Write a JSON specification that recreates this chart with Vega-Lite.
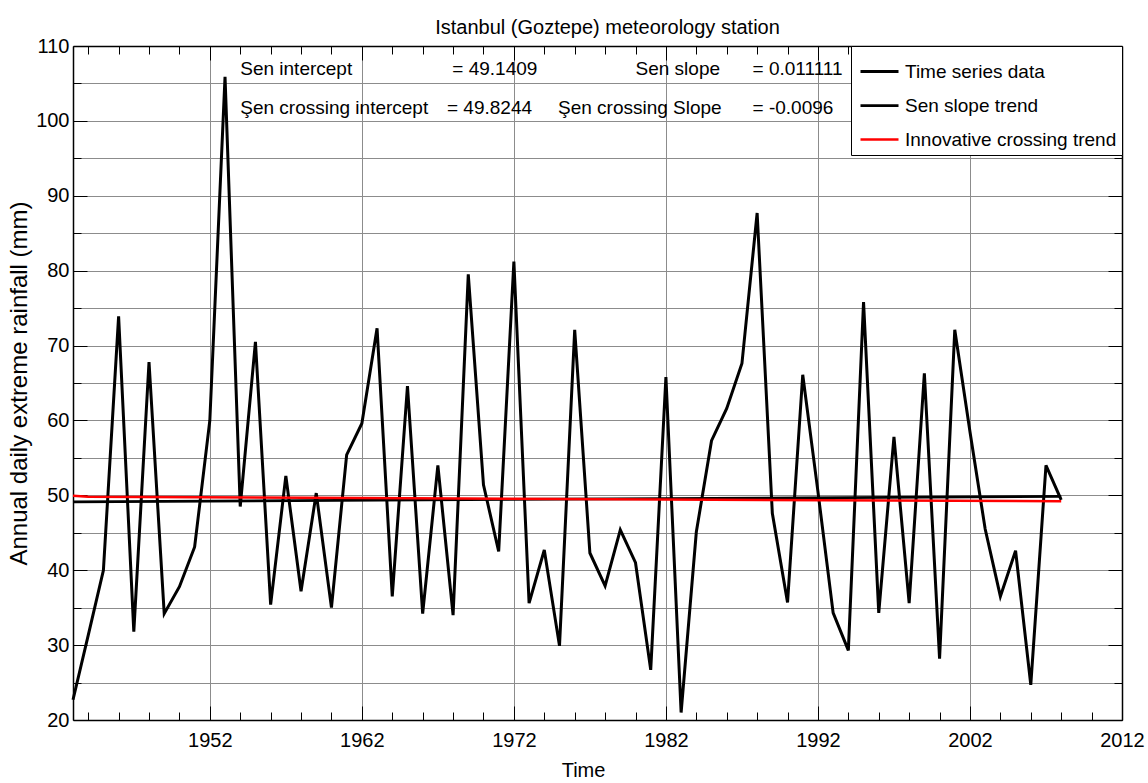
{
  "$schema": "https://vega.github.io/schema/vega-lite/v6.json",
  "width": 1049,
  "height": 674,
  "autosize": "none",
  "padding": {"left": 73, "top": 46, "right": 26, "bottom": 63},
  "background": "white",
  "title": {
    "text": "Istanbul (Goztepe) meteorology station",
    "font": "Liberation Sans, Arial, sans-serif",
    "fontSize": 20,
    "fontWeight": "normal",
    "color": "black",
    "anchor": "middle",
    "baseline": "alphabetic",
    "offset": -18,
    "dx": 10
  },
  "config": {
    "view": {"stroke": null},
    "legend": {
      "orient": "top-right",
      "offset": 0,
      "fillColor": "white",
      "strokeColor": "black",
      "padding": 5,
      "symbolType": "stroke",
      "symbolSize": 1444,
      "symbolStrokeWidth": 2,
      "symbolOffset": 3,
      "labelFont": "Liberation Sans, Arial, sans-serif",
      "labelFontSize": 19,
      "labelColor": "black",
      "labelLimit": 400,
      "labelOffset": 5,
      "rowPadding": 3
    }
  },
  "data": {
    "values": [
      {"year": 1943, "value": 22.7, "series": "Time series data"},
      {"year": 1944, "value": 31.3, "series": "Time series data"},
      {"year": 1945, "value": 40.0, "series": "Time series data"},
      {"year": 1946, "value": 73.9, "series": "Time series data"},
      {"year": 1947, "value": 31.8, "series": "Time series data"},
      {"year": 1948, "value": 67.8, "series": "Time series data"},
      {"year": 1949, "value": 34.2, "series": "Time series data"},
      {"year": 1950, "value": 37.8, "series": "Time series data"},
      {"year": 1951, "value": 43.1, "series": "Time series data"},
      {"year": 1952, "value": 60.0, "series": "Time series data"},
      {"year": 1953, "value": 105.9, "series": "Time series data"},
      {"year": 1954, "value": 48.5, "series": "Time series data"},
      {"year": 1955, "value": 70.5, "series": "Time series data"},
      {"year": 1956, "value": 35.4, "series": "Time series data"},
      {"year": 1957, "value": 52.6, "series": "Time series data"},
      {"year": 1958, "value": 37.2, "series": "Time series data"},
      {"year": 1959, "value": 50.3, "series": "Time series data"},
      {"year": 1960, "value": 35.0, "series": "Time series data"},
      {"year": 1961, "value": 55.4, "series": "Time series data"},
      {"year": 1962, "value": 59.6, "series": "Time series data"},
      {"year": 1963, "value": 72.3, "series": "Time series data"},
      {"year": 1964, "value": 36.5, "series": "Time series data"},
      {"year": 1965, "value": 64.6, "series": "Time series data"},
      {"year": 1966, "value": 34.2, "series": "Time series data"},
      {"year": 1967, "value": 54.0, "series": "Time series data"},
      {"year": 1968, "value": 34.0, "series": "Time series data"},
      {"year": 1969, "value": 79.5, "series": "Time series data"},
      {"year": 1970, "value": 51.4, "series": "Time series data"},
      {"year": 1971, "value": 42.5, "series": "Time series data"},
      {"year": 1972, "value": 81.2, "series": "Time series data"},
      {"year": 1973, "value": 35.6, "series": "Time series data"},
      {"year": 1974, "value": 42.7, "series": "Time series data"},
      {"year": 1975, "value": 29.9, "series": "Time series data"},
      {"year": 1976, "value": 72.1, "series": "Time series data"},
      {"year": 1977, "value": 42.3, "series": "Time series data"},
      {"year": 1978, "value": 37.9, "series": "Time series data"},
      {"year": 1979, "value": 45.4, "series": "Time series data"},
      {"year": 1980, "value": 41.0, "series": "Time series data"},
      {"year": 1981, "value": 26.7, "series": "Time series data"},
      {"year": 1982, "value": 65.8, "series": "Time series data"},
      {"year": 1983, "value": 21.0, "series": "Time series data"},
      {"year": 1984, "value": 45.1, "series": "Time series data"},
      {"year": 1985, "value": 57.3, "series": "Time series data"},
      {"year": 1986, "value": 61.6, "series": "Time series data"},
      {"year": 1987, "value": 67.6, "series": "Time series data"},
      {"year": 1988, "value": 87.7, "series": "Time series data"},
      {"year": 1989, "value": 47.6, "series": "Time series data"},
      {"year": 1990, "value": 35.7, "series": "Time series data"},
      {"year": 1991, "value": 66.1, "series": "Time series data"},
      {"year": 1992, "value": 50.5, "series": "Time series data"},
      {"year": 1993, "value": 34.3, "series": "Time series data"},
      {"year": 1994, "value": 29.3, "series": "Time series data"},
      {"year": 1995, "value": 75.8, "series": "Time series data"},
      {"year": 1996, "value": 34.3, "series": "Time series data"},
      {"year": 1997, "value": 57.8, "series": "Time series data"},
      {"year": 1998, "value": 35.6, "series": "Time series data"},
      {"year": 1999, "value": 66.3, "series": "Time series data"},
      {"year": 2000, "value": 28.2, "series": "Time series data"},
      {"year": 2001, "value": 72.1, "series": "Time series data"},
      {"year": 2002, "value": 58.5, "series": "Time series data"},
      {"year": 2003, "value": 45.5, "series": "Time series data"},
      {"year": 2004, "value": 36.5, "series": "Time series data"},
      {"year": 2005, "value": 42.6, "series": "Time series data"},
      {"year": 2006, "value": 24.7, "series": "Time series data"},
      {"year": 2007, "value": 54.0, "series": "Time series data"},
      {"year": 2008, "value": 49.4, "series": "Time series data"},
      {"year": 1943, "value": 49.14, "series": "Sen slope trend"},
      {"year": 2008, "value": 49.86, "series": "Sen slope trend"},
      {"year": 1943, "value": 49.95, "series": "Innovative crossing trend"},
      {"year": 1944, "value": 49.82, "series": "Innovative crossing trend"},
      {"year": 2008, "value": 49.2, "series": "Innovative crossing trend"}
    ]
  },
  "resolve": {"axis": {"x": "independent", "y": "independent"}},
  "layer": [
    {
      "mark": {"type": "line", "strokeJoin": "miter"},
      "encoding": {
        "x": {
          "field": "year", "type": "quantitative",
          "scale": {"domain": [1943, 2012], "nice": false, "zero": false},
          "axis": {
            "orient": "bottom",
            "values": [1944,1946,1948,1950,1952,1954,1956,1958,1960,1962,1964,1966,1968,1970,1972,1974,1976,1978,1980,1982,1984,1986,1988,1990,1992,1994,1996,1998,2000,2002,2004,2006,2008,2010,2012],
            "format": "d",
            "labelExpr": "(datum.value - 2) % 10 == 0 ? datum.label : ''",
            "labelFlush": false,
            "labelOverlap": false,
            "labelFont": "Liberation Sans, Arial, sans-serif",
            "labelFontSize": 20,
            "labelColor": "black",
            "labelPadding": 24,
            "tickColor": "black",
            "tickWidth": 1,
            "tickSize": {"condition": {"test": "(datum.value - 2) % 10 == 0", "value": -14}, "value": -8},
            "grid": true,
            "gridColor": "#8c8c8c",
            "gridWidth": 1,
            "gridOpacity": {"condition": {"test": "(datum.value - 2) % 10 == 0", "value": 1}, "value": 0},
            "domainColor": "black",
            "domainWidth": 1.5,
            "title": "Time",
            "titleFont": "Liberation Sans, Arial, sans-serif",
            "titleFontSize": 20,
            "titleFontWeight": "normal",
            "titleColor": "black",
            "titlePadding": 4,
            "titleX": 510
          }
        },
        "y": {
          "field": "value", "type": "quantitative",
          "scale": {"domain": [20, 110], "nice": false, "zero": false},
          "axis": {
            "orient": "left",
            "values": [20,25,30,35,40,45,50,55,60,65,70,75,80,85,90,95,100,105,110],
            "labelExpr": "datum.value % 10 == 0 ? datum.label : ''",
            "labelOverlap": false,
            "labelFlush": false,
            "labelFont": "Liberation Sans, Arial, sans-serif",
            "labelFontSize": 20,
            "labelColor": "black",
            "labelPadding": 18,
            "tickColor": "black",
            "tickWidth": 1,
            "tickSize": {"condition": {"test": "datum.value % 10 == 0", "value": -14}, "value": -8},
            "grid": true,
            "gridColor": "#8c8c8c",
            "gridWidth": 1,
            "domainColor": "black",
            "domainWidth": 1.5,
            "title": "Annual daily extreme rainfall (mm)",
            "titleFont": "Liberation Sans, Arial, sans-serif",
            "titleFontSize": 24,
            "titleFontWeight": "normal",
            "titleColor": "black",
            "titlePadding": 4
          }
        },
        "color": {
          "field": "series", "type": "nominal",
          "scale": {"domain": ["Time series data", "Sen slope trend", "Innovative crossing trend"], "range": ["black", "black", "red"]},
          "legend": {"title": null}
        },
        "strokeWidth": {
          "field": "series", "type": "nominal",
          "scale": {"domain": ["Time series data", "Sen slope trend", "Innovative crossing trend"], "range": [3, 2.5, 3]},
          "legend": null
        },
        "order": {"field": "year", "type": "quantitative"}
      }
    },
    {
      "data": {"values": [{}]},
      "mark": {"type": "text", "align": "left", "baseline": "middle", "font": "Liberation Sans, Arial, sans-serif", "fontSize": 19, "color": "black"},
      "encoding": {
        "x": {"datum": 1954.0, "type": "quantitative", "axis": {
            "orient": "top",
            "values": [1944,1946,1948,1950,1952,1954,1956,1958,1960,1962,1964,1966,1968,1970,1972,1974,1976,1978,1980,1982,1984,1986,1988,1990,1992,1994,1996,1998,2000,2002,2004,2006,2008,2010,2012],
            "labels": false,
            "tickColor": "black",
            "tickWidth": 1,
            "tickSize": {"condition": {"test": "(datum.value - 2) % 10 == 0", "value": -14}, "value": -8},
            "grid": false,
            "domainColor": "black",
            "domainWidth": 1.5,
            "title": null
          }},
        "y": {"datum": 106.9, "type": "quantitative", "axis": {
            "orient": "right",
            "values": [20,25,30,35,40,45,50,55,60,65,70,75,80,85,90,95,100,105,110],
            "labels": false,
            "tickColor": "black",
            "tickWidth": 1,
            "tickSize": {"condition": {"test": "datum.value % 10 == 0", "value": -14}, "value": -8},
            "grid": false,
            "domainColor": "black",
            "domainWidth": 1.5,
            "title": null
          }},
        "text": {"value": "Sen intercept"}
      }
    },
    {
      "data": {"values": [{}]},
      "mark": {"type": "text", "align": "left", "baseline": "middle", "font": "Liberation Sans, Arial, sans-serif", "fontSize": 19, "color": "black"},
      "encoding": {
        "x": {"datum": 1954.0, "type": "quantitative", "axis": null},
        "y": {"datum": 101.7, "type": "quantitative", "axis": null},
        "text": {"value": "Şen crossing intercept"}
      }
    },
    {
      "data": {"values": [{}]},
      "mark": {"type": "text", "align": "left", "baseline": "middle", "font": "Liberation Sans, Arial, sans-serif", "fontSize": 19, "color": "black"},
      "encoding": {
        "x": {"datum": 1967.95, "type": "quantitative", "axis": null},
        "y": {"datum": 106.9, "type": "quantitative", "axis": null},
        "text": {"value": "= 49.1409"}
      }
    },
    {
      "data": {"values": [{}]},
      "mark": {"type": "text", "align": "left", "baseline": "middle", "font": "Liberation Sans, Arial, sans-serif", "fontSize": 19, "color": "black"},
      "encoding": {
        "x": {"datum": 1967.6, "type": "quantitative", "axis": null},
        "y": {"datum": 101.7, "type": "quantitative", "axis": null},
        "text": {"value": "= 49.8244"}
      }
    },
    {
      "data": {"values": [{}]},
      "mark": {"type": "text", "align": "left", "baseline": "middle", "font": "Liberation Sans, Arial, sans-serif", "fontSize": 19, "color": "black"},
      "encoding": {
        "x": {"datum": 1980.0, "type": "quantitative", "axis": null},
        "y": {"datum": 106.9, "type": "quantitative", "axis": null},
        "text": {"value": "Sen slope"}
      }
    },
    {
      "data": {"values": [{}]},
      "mark": {"type": "text", "align": "left", "baseline": "middle", "font": "Liberation Sans, Arial, sans-serif", "fontSize": 19, "color": "black"},
      "encoding": {
        "x": {"datum": 1974.9, "type": "quantitative", "axis": null},
        "y": {"datum": 101.7, "type": "quantitative", "axis": null},
        "text": {"value": "Şen crossing Slope"}
      }
    },
    {
      "data": {"values": [{}]},
      "mark": {"type": "text", "align": "left", "baseline": "middle", "font": "Liberation Sans, Arial, sans-serif", "fontSize": 19, "color": "black"},
      "encoding": {
        "x": {"datum": 1987.7, "type": "quantitative", "axis": null},
        "y": {"datum": 106.9, "type": "quantitative", "axis": null},
        "text": {"value": "=  0.011111"}
      }
    },
    {
      "data": {"values": [{}]},
      "mark": {"type": "text", "align": "left", "baseline": "middle", "font": "Liberation Sans, Arial, sans-serif", "fontSize": 19, "color": "black"},
      "encoding": {
        "x": {"datum": 1987.7, "type": "quantitative", "axis": null},
        "y": {"datum": 101.7, "type": "quantitative", "axis": null},
        "text": {"value": "= -0.0096"}
      }
    }
  ]
}
